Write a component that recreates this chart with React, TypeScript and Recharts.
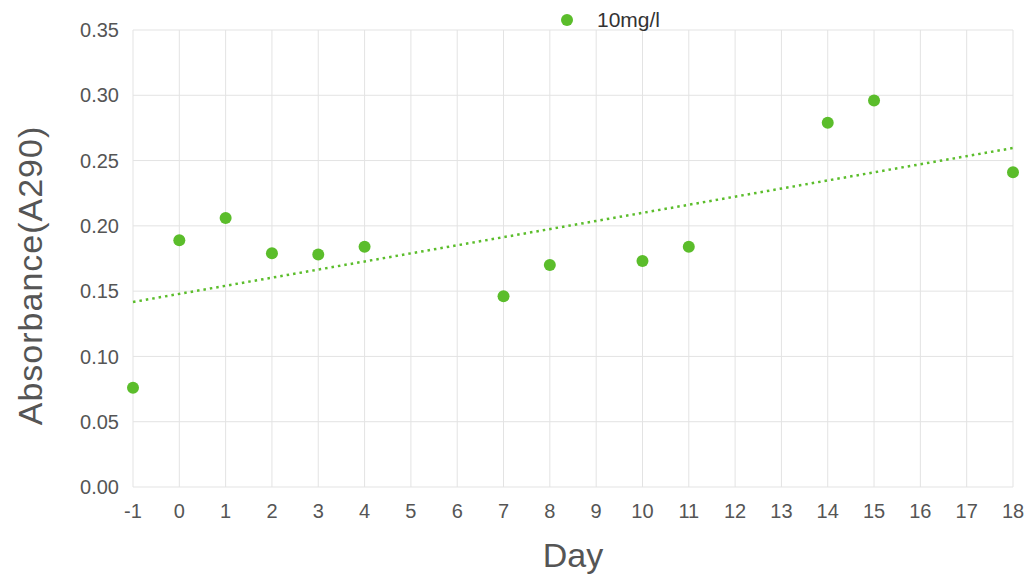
import {
  ScatterChart,
  Scatter,
  XAxis,
  YAxis,
  CartesianGrid,
} from 'recharts'

const days = [-1, 0, 1, 2, 3, 4, 7, 8, 10, 11, 14, 15, 18]
const absorbance = [0.076, 0.189, 0.206, 0.179, 0.178, 0.184, 0.146, 0.17, 0.173, 0.184, 0.279, 0.296, 0.241]

// linear trend endpoints
const trendDays = [-1, 18]
const trendValues = [0.1417, 0.2596]

const dayTicks = [-1, 0, 1, 2, 3, 4, 5, 6, 7, 8, 9, 10, 11, 12, 13, 14, 15, 16, 17, 18]
const absorbanceTicks = [0, 0.05, 0.1, 0.15, 0.2, 0.25, 0.3, 0.35]

const GREEN = '#5bbd2b'
const FONT = '"Liberation Sans", Arial, sans-serif'

const points = days.map((d, i) => ({ day: d, value: absorbance[i] }))
const trend = trendDays.map((d, i) => ({ day: d, value: trendValues[i] }))

const SeriesLegend = () => (
  <div
    style={{
      position: 'absolute',
      left: 561,
      top: 8,
      height: 24,
      display: 'flex',
      alignItems: 'center',
      fontFamily: FONT,
      fontSize: 21,
      color: '#333',
    }}
  >
    <svg width={12} height={12} style={{ marginRight: 24 }}>
      <circle cx={6} cy={6} r={6} fill={GREEN} />
    </svg>
    10mg/l
  </div>
)

// vertical axis title, nudged a little below the plot's middle
const YTitle = ({ viewBox }: any) => {
  const x = 30
  const y = viewBox.y + viewBox.height / 2 + 17
  return (
    <text
      x={x}
      y={y}
      transform={`rotate(-90, ${x}, ${y})`}
      textAnchor="middle"
      dominantBaseline="central"
      fill="#555"
      fontSize={34}
      letterSpacing={1}
    >
      Absorbance(A290)
    </text>
  )
}

const App = () => {
  return (
    <div style={{ position: 'absolute', left: 0, top: 0, width: 1029, height: 574 }}>
      <ScatterChart
        width={1029}
        height={574}
        margin={{ top: 30, right: 16, left: 0, bottom: 0 }}
        style={{ fontFamily: FONT }}
      >
        <CartesianGrid stroke="#e3e3e3" />
        <XAxis
          type="number"
          dataKey="day"
          domain={[-1, 18]}
          ticks={dayTicks}
          interval={0}
          axisLine={false}
          tickLine={false}
          tickSize={0}
          tickMargin={17}
          height={87}
          tick={{ fill: '#555', fontSize: 20 }}
          label={{
            value: 'Day',
            position: 'insideBottom',
            offset: 7,
            fill: '#555',
            fontSize: 34,
          }}
        />
        <YAxis
          type="number"
          dataKey="value"
          domain={[0, 0.35]}
          ticks={absorbanceTicks}
          interval={0}
          axisLine={false}
          tickLine={false}
          tickSize={0}
          tickMargin={14}
          width={133}
          tick={{ fill: '#555', fontSize: 20 }}
          tickFormatter={(v: number) => v.toFixed(2)}
          label={YTitle}
        />
        <Scatter
          data={trend}
          line={{ stroke: GREEN, strokeWidth: 2.5, strokeDasharray: '2.5 4' }}
          shape={() => <g />}
          isAnimationActive={false}
          legendType="none"
        />
        <Scatter
          name="10mg/l"
          data={points}
          fill={GREEN}
          shape={(p: any) => <circle cx={p.cx} cy={p.cy} r={6} fill={GREEN} />}
          isAnimationActive={false}
        />
      </ScatterChart>
      <SeriesLegend />
    </div>
  )
}

export default App
